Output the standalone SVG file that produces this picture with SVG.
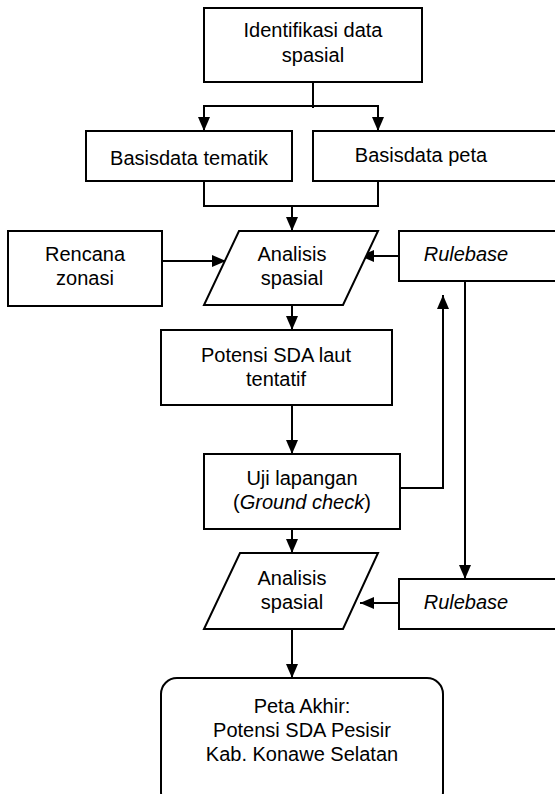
<svg xmlns="http://www.w3.org/2000/svg" width="555" height="794" viewBox="0 0 555 794">
<style>
.box{fill:#fff;stroke:#000;stroke-width:2}
.t{font-family:"Liberation Sans",Arial,sans-serif;font-size:20px;fill:#000;text-anchor:middle}
.i{font-style:italic}
.c{fill:none;stroke:#000;stroke-width:2}
.a{marker-end:url(#ah)}
</style>
<defs>
<marker id="ah" markerUnits="userSpaceOnUse" markerWidth="14" markerHeight="12" refX="14" refY="6" orient="auto">
<path d="M0,0 L14,6 L0,12 z" fill="#000"/>
</marker>
</defs>
<rect width="555" height="794" fill="#fff"/>
<g id="connectors">
<path class="c" d="M313,82 V108"/>
<path class="c a" d="M313,106 H204 V131"/>
<path class="c a" d="M313,106 H378 V131"/>
<path class="c" d="M204,181 V206 H378 V181"/>
<path class="c a" d="M292,206 V231"/>
<path class="c a" d="M162,261 H226"/>
<path class="c a" d="M399,256 H360"/>
<path class="c a" d="M292,305 V330"/>
<path class="c a" d="M292,405 V454"/>
<path class="c a" d="M400,488 H443 V295"/>
<path class="c a" d="M465,281 V579"/>
<path class="c a" d="M292,529 V553"/>
<path class="c a" d="M399,603 H360"/>
<path class="c a" d="M292,629 V678"/>
</g>
<g id="identifikasi">
<rect class="box" x="204" y="8" width="218" height="74"/>
<text class="t" x="313" y="37">Identifikasi data</text>
<text class="t" x="313" y="62">spasial</text>
</g>
<g id="basisdata-tematik">
<rect class="box" x="86" y="131" width="206" height="50"/>
<text class="t" x="189" y="165">Basisdata tematik</text>
</g>
<g id="basisdata-peta">
<rect class="box" x="313" y="131" width="250" height="50"/>
<text class="t" x="421" y="162">Basisdata peta</text>
</g>
<g id="rencana-zonasi">
<rect class="box" x="8" y="231" width="154" height="75"/>
<text class="t" x="85" y="261">Rencana</text>
<text class="t" x="85" y="285">zonasi</text>
</g>
<g id="analisis-1">
<polygon class="box" points="239,231 378,231 343,305 204,305"/>
<text class="t" x="292" y="261">Analisis</text>
<text class="t" x="292" y="285">spasial</text>
</g>
<g id="rulebase-1">
<rect class="box" x="399" y="231" width="165" height="50"/>
<text class="t i" x="466" y="261">Rulebase</text>
</g>
<g id="potensi-tentatif">
<rect class="box" x="161" y="330" width="231" height="75"/>
<text class="t" x="276" y="362">Potensi SDA laut</text>
<text class="t" x="276" y="386">tentatif</text>
</g>
<g id="uji-lapangan">
<rect class="box" x="204" y="454" width="196" height="75"/>
<text class="t" x="302" y="485">Uji lapangan</text>
<text class="t" x="302" y="509">(<tspan class="i">Ground check</tspan>)</text>
</g>
<g id="analisis-2">
<polygon class="box" points="240,553 378,553 343,629 204,629"/>
<text class="t" x="292" y="585">Analisis</text>
<text class="t" x="292" y="609">spasial</text>
</g>
<g id="rulebase-2">
<rect class="box" x="399" y="579" width="165" height="50"/>
<text class="t i" x="466" y="609">Rulebase</text>
</g>
<g id="peta-akhir">
<rect class="box" x="161" y="678" width="282" height="130" rx="16" ry="16"/>
<text class="t" x="302" y="713">Peta Akhir:</text>
<text class="t" x="302" y="737">Potensi SDA Pesisir</text>
<text class="t" x="302" y="761">Kab. Konawe Selatan</text>
</g>
</svg>
